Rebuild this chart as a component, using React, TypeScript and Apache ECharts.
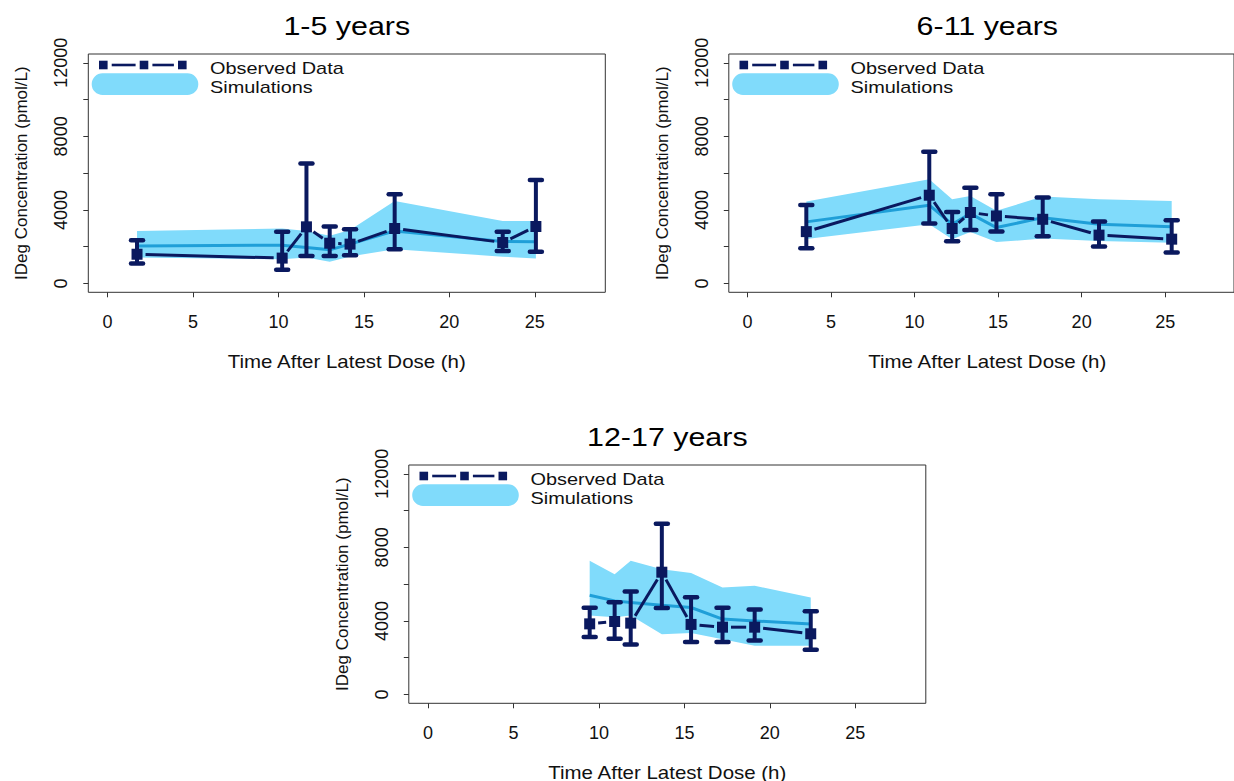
import React, { useEffect, useRef } from "react";
import * as echarts from "echarts";

// ---------- data ----------
const xTicks = [0, 5, 10, 15, 20, 25];
const yTicks = [0, 2000, 4000, 6000, 8000, 10000, 12000];
const yLabels = [0, 4000, 8000, 12000];

const panelTitles = ["1-5 years", "6-11 years", "12-17 years"];
const xAxisTitle = "Time After Latest Dose (h)";
const yAxisTitle = "IDeg Concentration (pmol/L)";
const legendObserved = "Observed Data";
const legendSim = "Simulations";

// 1-5 years
const time1 = [1.73, 10.22, 11.64, 13.0, 14.19, 16.8, 23.12, 25.06];
const obs1 = [1590, 1380, 3080, 2190, 2140, 2990, 2230, 3100];
const obsLo1 = [1090, 740, 1500, 1500, 1540, 1860, 1770, 1720];
const obsHi1 = [2350, 2810, 6530, 3100, 2950, 4850, 2810, 5630];
const simMed1 = [2040, 2080, 1960, 1830, 2140, 2860, 2280, 2270];
const simLo1 = [1410, 1320, 1410, 1180, 1470, 1860, 1460, 1360];
const simHi1 = [2860, 2990, 2860, 2590, 2910, 4480, 3400, 3400];

// 6-11 years
const time2 = [3.52, 10.88, 12.25, 13.34, 14.9, 17.67, 21.04, 25.39];
const obs2 = [2820, 4800, 2990, 3860, 3670, 3490, 2630, 2410];
const obsLo2 = [1920, 3260, 2300, 2910, 2820, 2570, 2010, 1680];
const obsHi2 = [4270, 7170, 3890, 5210, 4850, 4670, 3370, 3440];
const simMed2 = [3350, 4260, 3220, 3800, 3040, 3580, 3220, 3090];
const simLo2 = [2420, 3220, 2400, 2800, 2250, 2440, 2310, 2220];
const simHi2 = [4460, 5670, 4580, 4760, 3950, 4730, 4580, 4490];

// 12-17 years
const time3 = [9.46, 10.92, 11.86, 13.68, 15.39, 17.23, 19.11, 22.39];
const obs3 = [3840, 3970, 3880, 6650, 3810, 3660, 3660, 3300];
const obsLo3 = [3120, 3030, 2720, 4700, 2850, 2850, 2940, 2430];
const obsHi3 = [4710, 5020, 5600, 9280, 5290, 4710, 4620, 4530];
const simMed3 = [5400, 5090, 5000, 4850, 4730, 4100, 4000, 3830];
const simLo3 = [4300, 4200, 4300, 3280, 3350, 3010, 2650, 2650];
const simHi3 = [7270, 6540, 7270, 6810, 6600, 5820, 5910, 5280];

const panelData = [
  { t: time1, obs: obs1, lo: obsLo1, hi: obsHi1, med: simMed1, sLo: simLo1, sHi: simHi1 },
  { t: time2, obs: obs2, lo: obsLo2, hi: obsHi2, med: simMed2, sLo: simLo2, sHi: simHi2 },
  { t: time3, obs: obs3, lo: obsLo3, hi: obsHi3, med: simMed3, sLo: simLo3, sHi: simHi3 },
];

// ---------- layout / style ----------
const layout = [
  { L: 88.3, T: 54, W: 517, H: 238.3 },
  { L: 728.8, T: 54, W: 517, H: 238.3 },
  { L: 408.8, T: 465, W: 517, H: 238.3 },
];

const NAVY = "#0a195f";
const BAND = "#80dbfb";
const MED = "#1f9fd8";
const FONT = "'Liberation Sans', Arial, Helvetica, sans-serif";
const TXT = "#111";
const STRETCH = 1.17;

function buildOption() {
  const grid: any[] = [];
  const xAxis: any[] = [];
  const yAxis: any[] = [];
  const series: any[] = [];
  const graphic: any[] = [];

  layout.forEach((p, i) => {
    grid.push({
      left: p.L,
      top: p.T,
      width: p.W,
      height: p.H,
      show: true,
      borderColor: "#333",
      borderWidth: 1,
      backgroundColor: "transparent",
    });
    xAxis.push({
      type: "value",
      gridIndex: i,
      min: -1.12,
      max: 29.12,
      axisLine: { show: false, onZero: false },
      splitLine: { show: false },
      axisTick: { show: true, length: 5, lineStyle: { color: "#333", width: 1 }, customValues: xTicks },
      axisLabel: {
        customValues: xTicks,
        fontSize: 18,
        color: TXT,
        margin: 21,
        fontFamily: FONT,
        formatter: (v: number) => String(v),
      },
    });
    yAxis.push({
      type: "value",
      gridIndex: i,
      min: -480,
      max: 12480,
      axisLine: { show: false, onZero: false },
      splitLine: { show: false },
      axisTick: { show: true, length: 5, lineStyle: { color: "#333", width: 1 }, customValues: yTicks },
      axisLabel: {
        customValues: yLabels,
        fontSize: 18,
        color: TXT,
        margin: 18,
        rotate: 90,
        fontFamily: FONT,
        formatter: (v: number) => String(v),
      },
      name: yAxisTitle,
      nameLocation: "middle",
      nameRotate: 90,
      nameGap: 58,
      nameTextStyle: { fontSize: 17, color: TXT, fontFamily: FONT },
    });

    const d = panelData[i];
    const n = d.t.length;

    // simulation band
    series.push({
      type: "custom",
      xAxisIndex: i,
      yAxisIndex: i,
      silent: true,
      data: d.t.map((x, k) => [x, d.sLo[k], d.sHi[k]]),
      encode: { x: 0, y: [1, 2] },
      renderItem: (params: any, api: any) => {
        if (params.dataIndex !== 0) return null;
        const top = d.t.map((x, k) => api.coord([x, d.sHi[k]]));
        const bot = d.t.map((x, k) => api.coord([x, d.sLo[k]])).reverse();
        return {
          type: "polygon",
          shape: { points: top.concat(bot) },
          style: { fill: BAND },
        };
      },
      z: 1,
    });

    // simulation median
    series.push({
      type: "line",
      xAxisIndex: i,
      yAxisIndex: i,
      data: d.t.map((x, k) => [x, d.med[k]]),
      symbol: "none",
      lineStyle: { color: MED, width: 3 },
      silent: true,
      z: 2,
    });

    // observed connecting line with gaps (R type "b")
    series.push({
      type: "custom",
      xAxisIndex: i,
      yAxisIndex: i,
      silent: true,
      data: d.t.map((x, k) => [x, d.obs[k]]),
      encode: { x: 0, y: 1 },
      renderItem: (params: any, api: any) => {
        const k = params.dataIndex;
        if (k >= n - 1) return null;
        const a = api.coord([d.t[k], d.obs[k]]);
        const b = api.coord([d.t[k + 1], d.obs[k + 1]]);
        const dx = b[0] - a[0];
        const dy = b[1] - a[1];
        const len = Math.sqrt(dx * dx + dy * dy);
        const gap = 8.5;
        if (len <= 2 * gap + 1) return null;
        const ux = dx / len;
        const uy = dy / len;
        return {
          type: "line",
          shape: { x1: a[0] + ux * gap, y1: a[1] + uy * gap, x2: b[0] - ux * gap, y2: b[1] - uy * gap },
          style: { stroke: NAVY, lineWidth: 3 },
        };
      },
      z: 3,
    });

    // error bars
    series.push({
      type: "custom",
      xAxisIndex: i,
      yAxisIndex: i,
      silent: true,
      data: d.t.map((x, k) => [x, d.lo[k], d.hi[k]]),
      encode: { x: 0, y: [1, 2] },
      renderItem: (params: any, api: any) => {
        const x = api.value(0);
        const pl = api.coord([x, api.value(1)]);
        const ph = api.coord([x, api.value(2)]);
        const cw = 6;
        const capStyle = { stroke: NAVY, lineWidth: 4.5, lineCap: "round" };
        return {
          type: "group",
          children: [
            { type: "line", shape: { x1: pl[0], y1: pl[1], x2: ph[0], y2: ph[1] }, style: { stroke: NAVY, lineWidth: 4 } },
            { type: "line", shape: { x1: pl[0] - cw, y1: pl[1], x2: pl[0] + cw, y2: pl[1] }, style: capStyle },
            { type: "line", shape: { x1: ph[0] - cw, y1: ph[1], x2: ph[0] + cw, y2: ph[1] }, style: capStyle },
          ],
        };
      },
      z: 4,
    });

    // observed points
    series.push({
      type: "scatter",
      xAxisIndex: i,
      yAxisIndex: i,
      data: d.t.map((x, k) => [x, d.obs[k]]),
      symbol: "rect",
      symbolSize: 11,
      itemStyle: { color: NAVY, opacity: 1 },
      silent: true,
      z: 5,
    });

    // titles & x-axis names (horizontal text, slightly wide like reference)
    const cx = p.L + p.W / 2;
    graphic.push({
      type: "text",
      x: cx,
      y: p.T - 28.5,
      scaleX: STRETCH,
      style: { text: panelTitles[i], fontSize: 26, fill: "#000", fontFamily: FONT, textAlign: "center", textVerticalAlign: "middle" },
    });
    graphic.push({
      type: "text",
      x: cx,
      y: p.T + p.H + 69.5,
      scaleX: STRETCH,
      style: { text: xAxisTitle, fontSize: 17.5, fill: TXT, fontFamily: FONT, textAlign: "center", textVerticalAlign: "middle" },
    });

    // legend
    graphic.push({
      type: "rect",
      shape: { x: p.L + 3.4, y: p.T + 19.3, width: 106.6, height: 21.7, r: 10.8 },
      style: { fill: BAND },
    });
    const sqX = [p.L + 15, p.L + 55.7, p.L + 94];
    const ly = p.T + 11;
    for (let s = 0; s < 2; s++) {
      graphic.push({
        type: "line",
        shape: { x1: sqX[s] + 8.4, y1: ly, x2: sqX[s + 1] - 8.4, y2: ly },
        style: { stroke: NAVY, lineWidth: 2.6 },
      });
    }
    sqX.forEach((sx) => {
      graphic.push({
        type: "rect",
        shape: { x: sx - 4.3, y: ly - 4.3, width: 8.6, height: 8.6 },
        style: { fill: NAVY },
      });
    });
    graphic.push({
      type: "text",
      x: p.L + 121.7,
      y: p.T + 14.3,
      scaleX: STRETCH,
      style: { text: legendObserved, fontSize: 17, fill: TXT, fontFamily: FONT, textAlign: "left", textVerticalAlign: "middle" },
    });
    graphic.push({
      type: "text",
      x: p.L + 121.7,
      y: p.T + 32.7,
      scaleX: STRETCH,
      style: { text: legendSim, fontSize: 17, fill: TXT, fontFamily: FONT, textAlign: "left", textVerticalAlign: "middle" },
    });
  });

  return {
    animation: false,
    backgroundColor: "#ffffff",
    textStyle: { fontFamily: FONT },
    grid,
    xAxis,
    yAxis,
    series,
    graphic,
  };
}

export default function App() {
  const ref = useRef<HTMLDivElement>(null);
  useEffect(() => {
    if (!ref.current) return;
    const chart = echarts.init(ref.current, undefined, { renderer: "svg" });
    chart.setOption(buildOption() as any);
    return () => chart.dispose();
  }, []);
  return (
    <div
      ref={ref}
      style={{ position: "fixed", left: 0, top: 0, width: 1234, height: 781, background: "#fff" }}
    />
  );
}
